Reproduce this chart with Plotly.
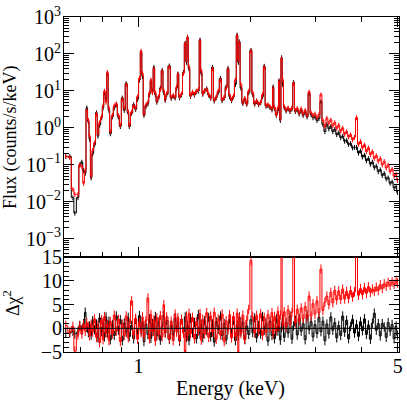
import plotly.graph_objects as go
from plotly.subplots import make_subplots

# energy grid (keV)
energy = [
    0.637, 0.653, 0.666, 0.674, 0.687, 0.695, 0.704, 0.712, 0.719, 0.726,
    0.733, 0.739, 0.746, 0.753, 0.762, 0.771, 0.778, 0.786, 0.796, 0.803,
    0.810, 0.818, 0.825, 0.833, 0.840, 0.851, 0.861, 0.872, 0.883, 0.894,
    0.905, 0.916, 0.927, 0.939, 0.945, 0.959, 0.971, 0.983, 0.995, 1.007,
    1.017, 1.026, 1.035, 1.048, 1.061, 1.071, 1.081, 1.091, 1.101, 1.111,
    1.121, 1.135, 1.146, 1.159, 1.171, 1.181, 1.192, 1.212, 1.226, 1.241,
    1.256, 1.268, 1.278, 1.291, 1.307, 1.323, 1.337, 1.348, 1.356, 1.369,
    1.382, 1.399, 1.416, 1.433, 1.451, 1.466, 1.477, 1.491, 1.509, 1.528,
    1.547, 1.566, 1.584, 1.601, 1.621, 1.641, 1.664, 1.682, 1.703, 1.724,
    1.745, 1.761, 1.783, 1.804, 1.826, 1.846, 1.860, 1.871, 1.889, 1.912,
    1.936, 1.959, 1.983, 2.012, 2.033, 2.058, 2.083, 2.109, 2.135, 2.161,
    2.184, 2.208, 2.235, 2.263, 2.291, 2.308, 2.326, 2.355, 2.377, 2.394,
    2.413, 2.432, 2.449, 2.472, 2.501, 2.532, 2.563, 2.594, 2.620, 2.649,
    2.680, 2.713, 2.746, 2.780, 2.815, 2.849, 2.885, 2.920, 2.956, 2.992,
    3.029, 3.066, 3.105, 3.143, 3.182, 3.221, 3.261, 3.301, 3.342, 3.383,
    3.424, 3.467, 3.510, 3.553, 3.597, 3.641, 3.686, 3.732, 3.778, 3.824,
    3.872, 3.920, 3.968, 4.017, 4.067, 4.117, 4.168, 4.220, 4.272, 4.324,
    4.377, 4.432, 4.486, 4.542, 4.598, 4.655, 4.712, 4.770, 4.829, 4.889,
    4.949, 4.990,
]

# counts/s/keV, black spectrum
flux_black = [
    0.17, 0.17, 0.013, 0.005, 0.013, 0.10, 0.12, 0.07, 0.06, 3.5,
    1.5, 0.5, 0.045, 0.2, 0.35, 2.6, 0.6, 1.2, 1.9, 3.5,
    9.0, 6.0, 30, 3.0, 0.7, 2.0, 3.5, 4.3, 2.0, 1.1,
    6.5, 3.0, 16, 2.5, 1.1, 2.5, 4.3, 3.2, 6.0, 20,
    110, 25, 2.2, 3.8, 4.5, 8.0, 18, 10, 44, 8.0,
    5.0, 6.8, 12, 36, 9.0, 5.6, 8.0, 48, 6.4, 7.2,
    6.5, 12, 29, 6.6, 8.0, 32, 198, 60, 290, 40,
    7.2, 9.0, 7.8, 9.6, 10, 240, 30, 8.2, 10.0, 11.5,
    7.8, 6.4, 44, 5.4, 6.6, 9.0, 22, 5.5, 6.5, 13,
    41, 7.0, 5.5, 7.0, 15, 327, 60, 216, 12, 4.6,
    6.0, 4.4, 9.0, 127, 8.0, 4.4, 5.2, 4.3, 4.8, 7.0,
    47, 3.9, 4.0, 3.6, 3.1, 13, 3.4, 2.2, 3.0, 19,
    1.6, 80, 15, 3.6, 2.9, 3.3, 2.8, 3.3, 17, 2.8,
    3.1, 2.4, 3.0, 2.2, 2.7, 2.0, 8.5, 2.3, 1.9, 2.0,
    1.6, 1.8, 5.2, 1.25, 0.8, 1.25, 0.95, 1.1, 0.8, 0.92,
    0.66, 0.74, 0.55, 0.60, 0.44, 0.46, 0.36, 0.38, 0.29, 0.30,
    0.30, 0.21, 0.24, 0.165, 0.185, 0.13, 0.15, 0.105, 0.12, 0.085,
    0.093, 0.066, 0.074, 0.052, 0.059, 0.042, 0.045, 0.032, 0.035, 0.024,
    0.026, 0.018,
]

# counts/s/keV, red spectrum
flux_red = [
    0.17, 0.16, 0.022, 0.016, 0.016, 0.10, 0.09, 0.032, 0.07, 3.0,
    1.6, 0.6, 0.05, 0.25, 0.4, 2.4, 0.7, 1.4, 2.0, 4.0,
    10, 5.0, 32, 3.5, 0.8, 2.2, 4.0, 4.5, 2.2, 1.2,
    6.0, 3.5, 15, 2.8, 1.2, 2.7, 4.0, 3.5, 7.0, 22,
    120, 30, 2.4, 4.2, 5.0, 9.0, 20, 9.0, 40, 9.0,
    5.5, 7.2, 11, 34, 10, 6.0, 8.6, 45, 6.8, 7.6,
    6.9, 13, 28, 7.0, 8.4, 30, 190, 70, 280, 45,
    7.6, 9.4, 8.2, 10.0, 11, 230, 35, 8.6, 10.4, 11,
    8.2, 6.8, 40, 5.7, 6.9, 10, 20, 5.8, 6.8, 12,
    38, 8.0, 5.8, 7.3, 20, 310, 70, 200, 15, 4.9,
    6.3, 4.6, 10, 120, 9.0, 4.7, 5.5, 4.5, 5.0, 8.0,
    44, 4.1, 4.3, 3.8, 3.4, 12, 3.6, 2.3, 3.5, 18,
    1.8, 75, 20, 3.8, 3.1, 3.5, 3.0, 3.5, 16, 3.0,
    3.4, 2.6, 3.3, 2.4, 3.0, 2.2, 9.5, 2.6, 2.2, 2.4,
    1.9, 2.3, 8.0, 1.6, 1.1, 1.85, 1.35, 1.65, 1.15, 1.4,
    0.98, 1.2, 0.82, 1.0, 0.68, 0.80, 0.57, 0.66, 0.48, 0.56,
    1.9, 0.36, 0.43, 0.29, 0.35, 0.23, 0.29, 0.19, 0.23, 0.15,
    0.18, 0.125, 0.15, 0.10, 0.125, 0.083, 0.10, 0.066, 0.077, 0.05,
    0.057, 0.038,
]

# delta chi residuals
delchi_black = [
    -1.0, -1.0, -0.6, -1.2, -0.8, 0.6, -0.4, 1.0, 3.4, 0.2,
    -0.9, 0.5, -1.4, 1.6, -0.3, 0.9, -2.0, 2.2, -0.7, 1.2,
    -1.8, 2.4, -1.0, 1.5, -2.4, 0.8, -1.5, 2.6, -0.4, 1.8,
    -2.6, 1.1, -0.8, 2.3, -1.7, 0.6, -2.2, 1.9, -1.1, 2.7,
    -0.5, 1.4, -2.8, 0.9, -1.3, 2.0, -2.1, 1.0, -0.6, 2.5,
    -1.6, 1.3, -2.5, 0.4, 2.8, -1.0, 1.7, -2.3, 0.7, -1.4,
    2.2, -0.3, 1.5, -2.7, 1.9, -0.8, 2.4, -1.9, 0.6, -2.6,
    2.1, -0.9, 1.2, -2.2, 2.9, -1.2, 0.8, -2.0, 1.6, -0.5,
    2.3, -1.8, 0.9, -2.9, 1.4, -0.2, 2.6, -1.5, 1.0, -2.4,
    0.3, 2.0, -1.1, 1.7, -2.6, 0.7, -1.6, 2.4, -0.7, 1.3,
    -2.3, 0.5, -1.3, 1.8, -0.9, 2.2, -2.0, 0.6, -1.2, 2.5,
    -0.4, 1.1, -2.7, 1.5, -1.5, 0.9, -2.2, 2.0, -0.6, 1.6,
    -2.5, 0.2, 1.9, -1.9, 1.2, -1.0, 2.6, -2.3, 0.5, 1.7,
    -1.4, 2.1, -0.6, 1.0, -2.4, 2.8, -0.3, 1.4, -1.8, 0.8,
    -1.1, 2.3, -0.7, 1.5, -2.6, 0.9, -1.2, 2.4, -0.4, 1.2,
    -2.0, 0.6, -1.5, 2.6, -0.8, 1.7, -2.2, 0.4, 1.9, -1.0,
    0.8, -1.7, 1.4, -0.5, 2.0, -1.3, 0.7, -2.3, 1.1, 3.2,
    -0.4, 1.0, -1.6, 1.0, 0.3, -1.9, 1.2, -0.6, 0.8, -2.2,
    0.5, -1.5,
]

delchi_red = [
    0.6, -0.8, 0.4, -4.8, -1.4, 0.5, -1.2, 0.8, -0.6, 1.2,
    0.4, -1.6, 0.9, -0.8, 2.0, -1.9, 0.6, -3.0, 1.8, -2.4,
    2.5, -1.0, 0.8, -2.6, 1.4, -1.2, 2.8, -0.6, 1.9, -2.8,
    0.9, -1.5, 2.6, -2.0, 1.0, 5.8, -1.4, 2.1, -2.3, 1.3,
    -0.9, 2.4, -1.7, 1.6, 6.4, -2.2, 2.9, -0.7, 1.7, -2.7,
    2.2, -1.3, 2.7, -1.8, 5.0, -0.9, 2.4, -2.1, 1.5, -2.6,
    3.0, -0.8, 2.2, -2.4, 1.8, -1.0, -5.5, 2.6, -1.6, 3.2,
    -1.1, 2.3, -2.2, 1.4, -0.6, 3.1, -2.5, 1.9, -1.2, 3.3,
    -1.9, 2.6, -0.8, 3.4, -2.3, 2.0, -1.4, 3.0, -2.8, 1.6,
    -0.4, 2.9, -2.0, 2.5, -1.7, 3.2, -5.5, 2.2, -1.1, 2.8,
    -2.4, 1.7, 4.0, 14.3, 2.4, -1.0, 2.7, -0.6, 3.1, -1.5,
    2.3, -0.9, 2.9, 0.2, 3.3, -1.2, 2.5, -0.5, 3.6, 0.4,
    2.8, 20, 0.6, 3.5, 0.3, 3.9, 0.9, 3.4, 20, 1.2,
    4.0, 1.5, 4.3, 2.0, 4.6, 2.2, 6.8, 2.6, 5.2, 3.0,
    5.8, 3.3, 12.5, 3.8, 5.5, 6.8, 5.0, 7.6, 5.4, 8.0,
    6.0, 7.9, 6.1, 8.3, 6.2, 7.8, 6.3, 8.0, 6.6, 7.7,
    18, 7.0, 8.4, 7.1, 8.6, 7.4, 8.8, 7.6, 8.3, 7.8,
    8.7, 8.0, 9.2, 8.4, 9.4, 8.9, 9.7, 9.1, 9.8, 9.3,
    10.0, 9.6,
]

flux_ticks = [1e-3, 1e-2, 1e-1, 1, 10, 100, 1000]
flux_labels = ["10<sup>−3</sup>", "10<sup>−2</sup>", "10<sup>−1</sup>", "10<sup>0</sup>",
               "10<sup>1</sup>", "10<sup>2</sup>", "10<sup>3</sup>"]
delchi_ticks = [-5, 0, 5, 10, 15]

FONT = "Liberation Serif"
W, H = 407, 400
L, R, T, B = 64, 4, 7, 48
split = 97.5 / (H - T - B)  # residual panel share of plot height

fig = make_subplots(rows=2, cols=1, shared_xaxes=True, vertical_spacing=0)

for ys, col in ((flux_black, "black"), (flux_red, "red")):
    fig.add_trace(go.Scatter(
        x=energy, y=ys, mode="lines",
        line=dict(color=col, width=1, shape="hvh"),
        error_y=dict(type="percent", value=15, color=col, thickness=1, width=0),
        showlegend=False, hoverinfo="skip"), row=1, col=1)

for ys, col in ((delchi_black, "black"), (delchi_red, "red")):
    fig.add_trace(go.Scatter(
        x=energy, y=ys, mode="lines",
        line=dict(color=col, width=1, shape="hvh"),
        error_y=dict(type="constant", value=1, color=col, thickness=1, width=0),
        showlegend=False, hoverinfo="skip"), row=2, col=1)

# model line at zero
fig.add_shape(type="line", xref="x2 domain", yref="y2", x0=0, x1=1, y0=0, y1=0,
              line=dict(color="black", width=1), layer="above")

xcommon = dict(
    type="log", range=[-0.2005, 0.7024], showline=True, linecolor="black", linewidth=1,
    ticks="inside", ticklen=10, tickcolor="black", tickvals=[1, 5], ticktext=["1", "5"],
    showgrid=False, zeroline=False, ticklabelstandoff=-4,
    minor=dict(ticks="inside", ticklen=5, tickcolor="black", tickvals=[0.7, 0.8, 0.9, 2, 3, 4],
               showgrid=False),
)
fig.update_xaxes(**xcommon)
fig.update_xaxes(mirror="allticks", showticklabels=False, row=1, col=1)
fig.update_xaxes(mirror=True, row=2, col=1)

fig.update_yaxes(
    type="log", range=[-3.5, 3], domain=[split, 1], showline=True, linecolor="black",
    linewidth=1, mirror="allticks", ticks="inside", ticklen=10, tickcolor="black",
    tickvals=flux_ticks, ticktext=flux_labels, showgrid=False, zeroline=False,
    ticklabelstandoff=-2,
    minor=dict(ticks="inside", ticklen=5, tickcolor="black", showgrid=False,
               tickvals=[m * 10 ** k for k in range(-4, 3) for m in range(2, 10)]),
    row=1, col=1)
fig.update_yaxes(
    range=[-5, 15], domain=[0, split], showline=True, linecolor="black", linewidth=1,
    mirror="allticks", ticks="inside", ticklen=10, tickcolor="black",
    tickvals=delchi_ticks, showgrid=False, zeroline=False, ticklabelstandoff=-3,
    minor=dict(ticks="inside", ticklen=5, tickcolor="black", dtick=1, showgrid=False),
    row=2, col=1)

ph = H - T - B
pw = W - L - R
fig.update_layout(
    width=W, height=H, margin=dict(l=L, r=R, t=T, b=B, pad=0),
    paper_bgcolor="white", plot_bgcolor="white",
    font=dict(family=FONT, size=20, color="black"),
    showlegend=False, hovermode=False,
    annotations=[
        dict(text="Flux (counts/s/keV)", xref="paper", yref="paper",
             x=(10 - L) / pw, y=(H - B - 131) / ph, textangle=-90, showarrow=False,
             xanchor="center", yanchor="middle", font=dict(size=18)),
        dict(text="Δχ<sup>2</sup>", xref="paper", yref="paper",
             x=(11 - L) / pw, y=(H - B - 302) / ph, textangle=-90, showarrow=False,
             xanchor="center", yanchor="middle", font=dict(size=18)),
        dict(text="Energy (keV)", xref="paper", yref="paper",
             x=(232.5 - L) / pw, y=(H - B - 389.7) / ph, showarrow=False,
             xanchor="center", yanchor="middle", font=dict(size=20)),
    ],
)

# drop the default page margin so the figure sits at the window's corner
fig.write_html("out.html", config={"displayModeBar": False},
               post_script="document.body.style.margin='0px';")
